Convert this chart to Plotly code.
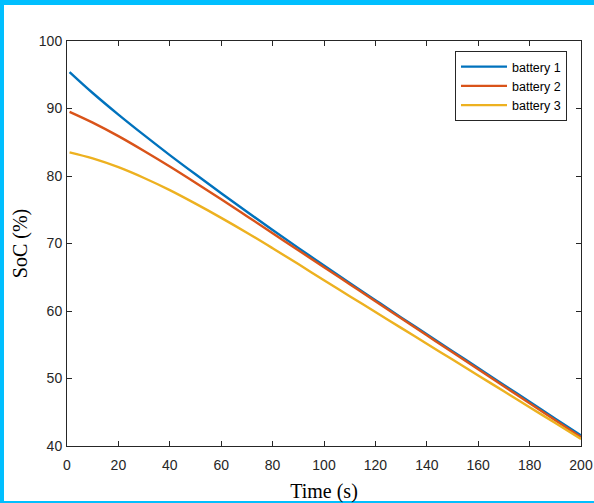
import plotly.graph_objects as go

time_s = [1, 10, 20, 30, 40, 50, 60, 70, 80, 90, 100, 110, 120, 130, 140, 150, 160, 170, 180, 190, 200]
battery1 = [95.4, 92.3, 89.1, 86.05, 83.1, 80.25, 77.45, 74.7, 72.0, 69.35, 66.75, 64.15, 61.6, 59.05, 56.55, 54.05, 51.55, 49.05, 46.55, 44.05, 41.55]
battery2 = [89.5, 87.9, 85.9, 83.7, 81.4, 79.0, 76.55, 74.05, 71.53, 69.0, 66.5, 63.97, 61.45, 58.93, 56.4, 53.88, 51.36, 48.84, 46.32, 43.8, 41.3]
battery3 = [83.5, 82.6, 81.3, 79.7, 77.9, 75.9, 73.8, 71.6, 69.3, 66.95, 64.55, 62.2, 59.85, 57.5, 55.15, 52.8, 50.45, 48.1, 45.75, 43.4, 41.05]
names = ["battery 1", "battery 2", "battery 3"]
colors = ["#0072BD", "#D95319", "#EDB120"]

W, H = 594, 503
L, R, T, B = 67, 581, 41, 446

fig = go.Figure()
for name, ys, c in zip(names, [battery1, battery2, battery3], colors):
    fig.add_trace(go.Scatter(x=time_s, y=ys, mode="lines", name=name,
                             line=dict(color=c, width=2.4, shape="spline", smoothing=1.0)))

def px(x):
    return (x - L) / (R - L)

def py(y):
    return (B - y) / (B - T)

border = "#00BFFF"
shapes = [
    dict(type="rect", xref="paper", yref="paper", x0=px(0), x1=px(4), y0=py(H), y1=py(0),
         fillcolor=border, line=dict(width=0)),
    dict(type="rect", xref="paper", yref="paper", x0=px(0), x1=px(W), y0=py(5), y1=py(0),
         fillcolor=border, line=dict(width=0)),
    dict(type="rect", xref="paper", yref="paper", x0=px(0), x1=px(W), y0=py(H), y1=py(501),
         fillcolor=border, line=dict(width=0)),
]

axis_common = dict(showgrid=False, zeroline=False, showline=True, linecolor="#262626",
                   linewidth=1, mirror="ticks", ticks="inside", ticklen=5,
                   tickcolor="#262626", tickwidth=1, automargin=False,
                   tickfont=dict(family="Liberation Sans, Arial", size=14, color="#262626"))

title_font = dict(family="Liberation Serif, Times New Roman", size=20, color="black")

fig.update_layout(
    width=W, height=H, autosize=False,
    margin=dict(l=L, r=W - R, t=T, b=H - B, pad=0, autoexpand=False),
    paper_bgcolor="white", plot_bgcolor="white",
    shapes=shapes,
    xaxis=dict(range=[0, 200], tickvals=list(range(0, 201, 20)),
               ticklabelstandoff=6,
               title=dict(text="Time (s)", font=title_font, standoff=14),
               **axis_common),
    yaxis=dict(range=[40, 100], tickvals=list(range(40, 101, 10)),
               ticklabelstandoff=1,
               title=dict(text="SoC (%)", font=title_font, standoff=5),
               **axis_common),
    legend=dict(x=px(567), y=py(51), xanchor="right", yanchor="top",
                bgcolor="white", bordercolor="#262626", borderwidth=1,
                font=dict(family="Liberation Sans, Arial", size=12.5, color="black"),
                itemwidth=46, tracegroupgap=0),
    showlegend=True,
)

fig.write_html("out.html", config={"responsive": False})
